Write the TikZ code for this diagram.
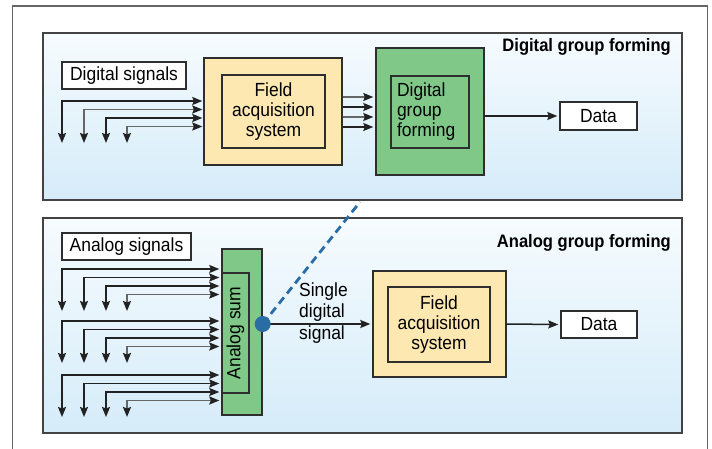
\documentclass[tikz,border=0pt]{standalone}
\usepackage{fontspec}
\setmainfont{Liberation Sans}[FakeStretch=0.92]
\usetikzlibrary{arrows.meta}
\definecolor{boxline}{HTML}{2E2E2E}
\definecolor{fasfill}{HTML}{FDE8B2}
\definecolor{grpfill}{HTML}{80C888}
\definecolor{paneltop}{HTML}{F6FBFE}
\definecolor{panelbot}{HTML}{D5ECF9}
\definecolor{sigdark}{HTML}{222222}
\definecolor{siggray}{HTML}{666666}
\definecolor{tapblue}{HTML}{2A6CA4}
\tikzset{
  txt/.style={font=\fontsize{19}{20}\selectfont},
  box/.style={draw=boxline,line width=1.4pt,inner sep=0pt,txt},
  fasbox/.style={box,fill=fasfill},
  grpbox/.style={box,fill=grpfill},
  inbox/.style={box},
  lblbox/.style={box,fill=white},
  title/.style={font=\fontsize{18}{20}\selectfont\bfseries,anchor=east,inner sep=0pt},
  panel/.style={draw=boxline!90,line width=1.5pt,top color=paneltop,bottom color=panelbot},
  tip/.tip={Stealth[length=10pt,width=8pt,inset=1.5pt,color=sigdark]},
  sig/.style={tip-tip,line width=1.5pt},
  flow/.style={-tip,line width=1.5pt,draw=sigdark}
}
\begin{document}
\begin{tikzpicture}[x=1pt,y=-1pt]
\useasboundingbox (0,0) rectangle (712,449);
\draw [siggray,line width=1.3pt] (12.5,449) |- (707.5,6) -- (707.5,449);

\draw [panel] (43,33) rectangle (682,200);
\draw [panel] (43,218) rectangle (682,433);

\node (dtitle) [title] at (671,47) {Digital group forming};
\node (atitle) [title] at (671,243) {Analog group forming};

\node (digsig) [lblbox,minimum width=124pt,minimum height=27pt] at (124,75.5) {Digital signals};
\node (fas) [fasbox,minimum width=138pt,minimum height=107pt] at (273,111.5) {};
\node (fasin) [inbox,minimum width=103pt,minimum height=73pt,align=center] at (273.5,111.5) {Field\\acquisition\\system};
\node (dgf) [grpbox,minimum width=108pt,minimum height=127pt] at (430,111.5) {};
\node (dgfin) [inbox,inner sep=6pt,text width=66pt,minimum height=72pt,align=left] at (430,112) {Digital\\group\\forming};
\node (data) [lblbox,minimum width=77pt,minimum height=28pt] at (598.5,116) {Data};

\foreach \i/\x/\d/\c in {1/62/0/sigdark,2/84/8.5/siggray,3/106/17/sigdark,4/127/25.5/siggray} {
  \coordinate (dig\i) at (\x,143);
  \draw [sig,draw=\c] (dig\i) |- ([xshift=-1pt]fas.west |- 0,{101+\d});
}
\foreach \d/\c in {0/siggray,10/sigdark,20/siggray,30/sigdark}
  \draw [flow,draw=\c] (fas.east |- 0,{97+\d}) -- ([xshift=-2pt]dgf.west |- 0,{97+\d});
\draw [flow] (dgf.east |- data.west) -- ([xshift=-2pt]data.west);

\node (anasig) [lblbox,minimum width=129pt,minimum height=27pt] at (126.5,246.5) {Analog signals};
\node (sum) [grpbox,minimum width=40pt,minimum height=166pt] at (242,332) {};
\node (sumin) [inbox,rotate=90,minimum width=120pt,minimum height=27pt] at (235.5,333) {Analog sum};
\node (fas2) [fasbox,minimum width=133pt,minimum height=106pt] at (439.5,324) {};
\node (fas2in) [inbox,minimum width=102pt,minimum height=75pt,align=center] at (439,324.5) {Field\\acquisition\\system};
\node (data2) [lblbox,minimum width=76pt,minimum height=27pt] at (599,324.5) {Data};

\foreach \g/\y in {a/269,b/321,c/375} {
  \foreach \i/\x/\d/\c in {1/62/0/sigdark,2/84/8.5/sigdark,3/106/17/sigdark,4/127/25.5/siggray} {
    \coordinate (\g\i) at (\x,{\y+42});
    \draw [sig,draw=\c] (\g\i) |- ([xshift=-2pt]sum.west |- 0,{\y+\d});
  }
}

\coordinate (tap) at (sum.east |- fas2.west);
\coordinate (lnk) at (360,202);
\draw [tapblue,line width=2.8pt,dash pattern=on 8pt off 5pt] (tap) -- (lnk);
\draw [flow] (tap) -- ([xshift=-2pt]fas2.west);
\node (dot) [circle,fill=tapblue,minimum size=16pt,inner sep=0pt] at (tap) {};
\node (single) [txt,anchor=west,align=left,inner sep=0pt,font=\fontsize{19}{21.5}\selectfont] at (299,313) {Single\\digital\\signal};
\draw [flow] (fas2.east) -- ([xshift=-2pt]data2.west);
\end{tikzpicture}
\end{document}
